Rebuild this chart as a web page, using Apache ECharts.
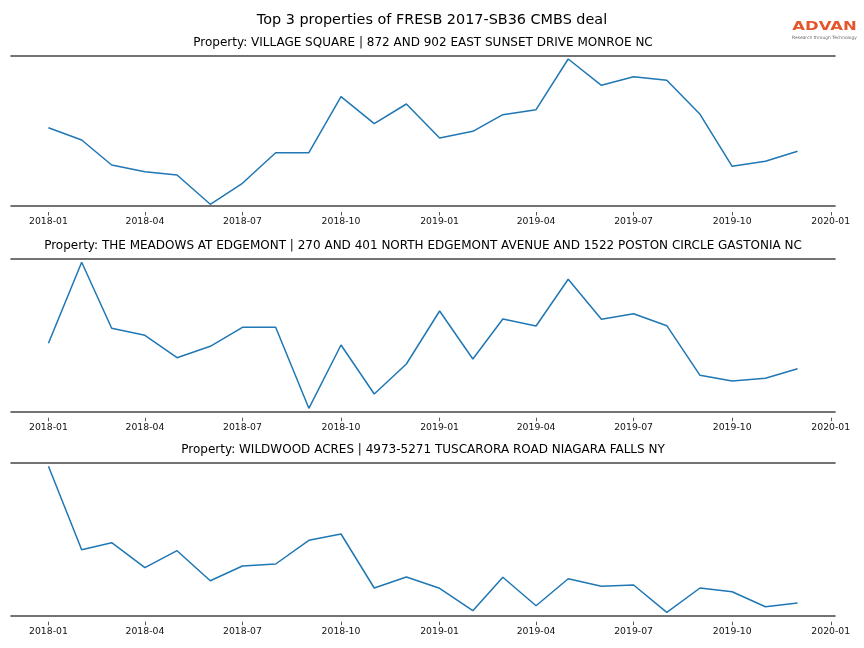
<!DOCTYPE html>
<html>
<head>
<meta charset="utf-8">
<script src="https://cdn.jsdelivr.net/npm/echarts@6/dist/echarts.min.js"></script>
<style>html,body{margin:0;padding:0;background:#fff}#c{width:864px;height:648px}</style>
</head>
<body>
<div id="c"></div>
<script>
// Months of observation
const months = ['2018-01','2018-02','2018-03','2018-04','2018-05','2018-06','2018-07','2018-08','2018-09','2018-10','2018-11','2018-12',
                '2019-01','2019-02','2019-03','2019-04','2019-05','2019-06','2019-07','2019-08','2019-09','2019-10','2019-11','2019-12'];
// Relative values (no y scale shown in the reference)
const villageSquare = [78.3,66,41,34.3,31,1.7,22.7,53.3,53.3,109.3,82.3,102,68,74.7,91.3,96.3,147,120.7,129.3,125.7,91.7,39.7,44.7,54.7];
const meadowsEdgemont = [68.4,149.4,83.4,76.4,54,65.4,84.4,84.4,3.4,66.7,17.7,47.7,100.7,52.7,92.7,85.7,132.4,92.4,98,86,36.4,30.7,33.4,43];
const wildwoodAcres = [149.4,66,73,48,65,35,49.7,51.7,75.4,81.7,27.7,38.7,27.4,5,38.4,10,37,29.4,30.7,3.4,27.7,24,9,12.7];
const tickLabels = ['2018-01','2018-04','2018-07','2018-10','2019-01','2019-04','2019-07','2019-10','2020-01'];
const mainTitle = 'Top 3 properties of FRESB 2017-SB36 CMBS deal';
const panelTitles = [
  'Property: VILLAGE SQUARE | 872 AND 902 EAST SUNSET DRIVE MONROE NC',
  'Property: THE MEADOWS AT EDGEMONT | 270 AND 401 NORTH EDGEMONT AVENUE AND 1522 POSTON CIRCLE GASTONIA NC',
  'Property: WILDWOOD ACRES | 4973-5271 TUSCARORA ROAD NIAGARA FALLS NY'
];
const seriesList = [villageSquare, meadowsEdgemont, wildwoodAcres];

function ts(s){ const p = s.split('-'); return Date.UTC(+p[0], +p[1]-1, 1); }
function fmt(v){ const d = new Date(v); return d.getUTCFullYear() + '-' + String(d.getUTCMonth()+1).padStart(2,'0'); }

const first = ts(months[0]), last = ts(months[months.length-1]);
const pad = (last - first) * 0.05;
const xMin = first - pad, xMax = last + pad;
const tickVals = tickLabels.map(ts);

const grids = [
  {top: 56, height: 150},
  {top: 259, height: 152.7},
  {top: 463, height: 152.7}
];
const yMaxes = [150, 152.7, 152.7];
const FONT = 'DejaVu Sans';
const SPINE = {color: '#454545', width: 1.6};

const option = {
  animation: false,
  textStyle: {fontFamily: FONT},
  grid: grids.map(g => ({left: 11, width: 824, top: g.top, height: g.height, containLabel: false})),
  xAxis: [],
  yAxis: [],
  series: [],
  graphic: []
};

grids.forEach((g, i) => {
  // bottom spine
  option.xAxis.push({
    type: 'value', gridIndex: i, min: xMin, max: xMax, position: 'bottom',
    axisLine: {show: true, onZero: false, lineStyle: SPINE},
    axisTick: {show: false}, axisLabel: {show: false}, splitLine: {show: false}
  });
  // top spine
  option.xAxis.push({
    type: 'value', gridIndex: i, min: xMin, max: xMax, position: 'top',
    axisLine: {show: true, onZero: false, lineStyle: SPINE},
    axisTick: {show: false}, axisLabel: {show: false}, splitLine: {show: false}
  });
  // ticks and labels (slightly detached below the spine)
  option.xAxis.push({
    type: 'value', gridIndex: i, min: xMin, max: xMax, position: 'bottom', offset: 6,
    axisLine: {show: false, onZero: false},
    axisTick: {show: true, customValues: tickVals, length: 3.5, lineStyle: {color: '#444', width: 0.9}},
    axisLabel: {show: true, customValues: tickVals, formatter: v => fmt(v), fontSize: 9.3, color: '#111', margin: 5.5, fontFamily: FONT, hideOverlap: false},
    splitLine: {show: false}
  });
  option.yAxis.push({
    type: 'value', gridIndex: i, min: 0, max: yMaxes[i], show: false, splitLine: {show: false}
  });
  option.series.push({
    type: 'line', xAxisIndex: i*3, yAxisIndex: i, symbol: 'none',
    lineStyle: {color: '#1f77b4', width: 1.5}, itemStyle: {color: '#1f77b4'},
    data: months.map((m, k) => [ts(m), seriesList[i][k]])
  });
  option.graphic.push({
    type: 'text', x: 423, y: g.top - 13.5,
    style: {text: panelTitles[i], font: '12px "DejaVu Sans"', fill: '#000', textAlign: 'center', textVerticalAlign: 'middle'}
  });
});

option.graphic.push({
  type: 'text', x: 432, y: 20,
  style: {text: mainTitle, font: '14.4px "DejaVu Sans"', fill: '#000', textAlign: 'center', textVerticalAlign: 'middle'}
});
option.graphic.push({
  type: 'text', x: 824.5, y: 26.5, scaleX: 1.37,
  style: {text: 'ADVAN', font: 'bold 12px "DejaVu Sans"', fill: '#e4572e', textAlign: 'center', textVerticalAlign: 'middle'}
});
option.graphic.push({
  type: 'text', x: 824.5, y: 37.5,
  style: {text: 'Research through Technology', font: '4.4px "DejaVu Sans"', fill: '#666', textAlign: 'center', textVerticalAlign: 'middle'}
});

const chart = echarts.init(document.getElementById('c'), null, {renderer: 'canvas'});
chart.setOption(option);
</script>
</body>
</html>
